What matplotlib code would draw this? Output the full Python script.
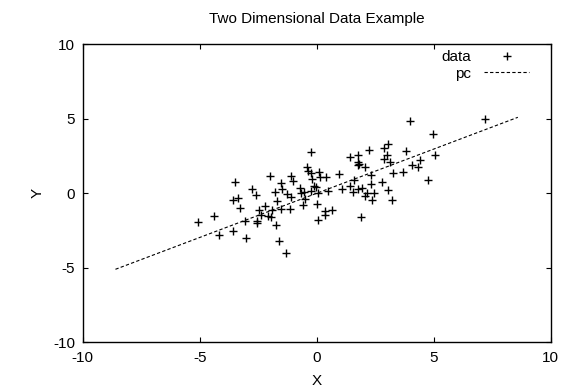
import matplotlib
matplotlib.use("Agg")
import matplotlib.pyplot as plt

plt.rcParams['font.family'] = ['Liberation Sans', 'DejaVu Sans']
plt.rcParams['axes.unicode_minus'] = False

# data points
data_x = [-5.06, -4.37, -4.19, -3.59, -3.49, -3.59, -3.37, -3.26, -3.00, -3.06,
          -2.76, -2.59, -2.56, -2.56, -2.45, -2.21, -2.36, -2.10, -1.99, -1.93,
          -1.89, -1.78, -1.69, -1.72, -1.51, -1.48, -1.53, -1.25, -1.63, -1.31,
          -1.16, -1.11, -0.23, -1.11, -1.01, -0.71, -0.68, -0.53, -0.48, -0.57,
          -0.42, -0.35, -0.25, -0.21, -0.25, -0.10, -0.04, 0.07, 0.02, 0.10,
          0.15, 0.39, 0.49, 0.36, 0.35, 0.67, 0.07, 0.96, 1.10, 1.43,
          1.54, 1.44, 1.77, 1.77, 1.80, 1.76, 2.06, 1.59, 1.75, 1.95,
          2.15, 2.06, 2.33, 2.34, 2.45, 2.35, 2.25, 1.88, 2.81, 3.06,
          2.86, 3.06, 2.99, 2.90, 3.13, 3.27, 3.22, 3.71, 3.83, 4.01,
          4.09, 4.34, 4.42, 4.74, 4.97, 5.07, 7.21]
data_y = [-1.91, -1.54, -2.83, -2.51, 0.78, -0.48, -0.30, -0.97, -3.03, -1.84,
          0.29, -0.11, -1.86, -2.01, -1.09, -0.85, -1.44, -1.54, 1.19, -1.59,
          -1.11, 0.12, -0.53, -2.15, 0.68, 0.27, -1.07, -0.02, -3.19, -4.03,
          -1.03, 1.18, 2.77, -0.27, 0.81, 0.34, 0.00, 0.11, -0.40, -0.77,
          1.74, 1.52, 1.34, 0.96, 0.17, 0.49, 0.44, 0.00, -0.72, 1.41,
          1.11, 1.11, 0.17, -1.21, -1.46, -1.14, -1.77, 1.30, 0.32, 0.49,
          0.11, 2.42, 2.55, 2.10, 1.97, 1.88, 1.79, 0.86, 0.27, 0.34,
          0.05, -0.21, 0.64, 1.23, 0.05, -0.45, 2.89, -1.56, 0.74, 0.21,
          3.07, 3.30, 2.60, 2.28, 2.10, 1.38, -0.48, 1.46, 2.84, 4.83,
          1.90, 1.79, 2.21, 0.87, 3.99, 2.58, 4.99]

# principal component line
pc_x = [-8.6, 8.6]
pc_y = [-5.1, 5.1]

ticks = [-10, -5, 0, 5, 10]
tick_labels = ["-10", "-5", "0", "5", "10"]

fig = plt.figure(figsize=(5.74, 3.92), dpi=100)
ax = fig.add_axes([82.7 / 574, 1 - 342.3 / 392, (550.6 - 82.7) / 574, (342.3 - 44.3) / 392])

ax.plot(data_x, data_y, linestyle="none", marker="+", ms=5.5, mew=1.0, color="black", label="data")
ax.plot(pc_x, pc_y, linestyle=(0, (3, 2)), lw=0.8, color="black", label="pc")

ax.set_xlim(-10, 10)
ax.set_ylim(-10, 10)
ax.set_xticks(ticks)
ax.set_xticklabels(tick_labels)
ax.set_yticks(ticks)
ax.set_yticklabels(tick_labels)
ax.tick_params(direction="in", length=3.6, width=0.8, top=True, right=True, labelsize=11)
ax.tick_params(axis="x", pad=6.5)
ax.tick_params(axis="y", pad=5.5)
for s in ax.spines.values():
    s.set_linewidth(1.0)

ax.set_title("Two Dimensional Data Example", fontsize=11, pad=15)
ax.set_xlabel("X", fontsize=11, labelpad=6)
ax.set_ylabel("Y", fontsize=11, labelpad=6)

ax.legend(loc="upper right", bbox_to_anchor=(1 - 12 / 468, 1 + 3 / 298),
          frameon=False, markerfirst=False, fontsize=11,
          handlelength=3.0, handletextpad=0.8, labelspacing=0.15,
          borderaxespad=0.2, numpoints=1)

fig.savefig("out.png", dpi=100)
